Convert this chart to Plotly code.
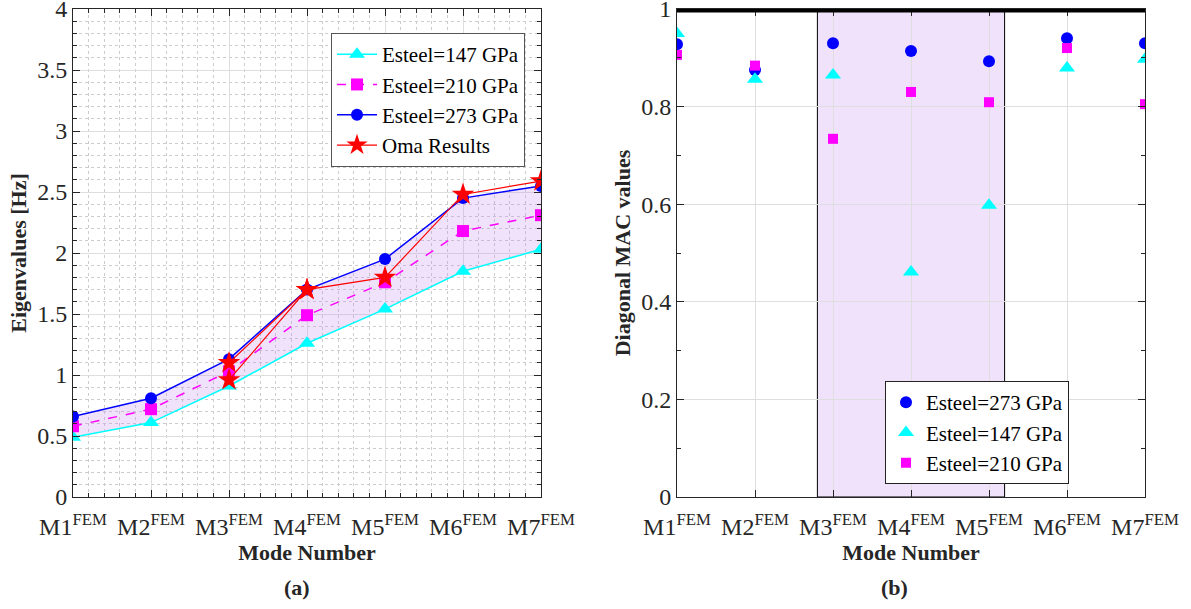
import plotly.graph_objects as go

modes = ["M1", "M2", "M3", "M4", "M5", "M6", "M7"]
tick_labels = [m + "<sup>FEM</sup>" for m in modes]

# Panel (a): eigenvalues [Hz]
eig_147 = [0.49, 0.61, 0.91, 1.26, 1.54, 1.85, 2.03]
eig_210 = [0.58, 0.72, 1.03, 1.49, 1.76, 2.18, 2.31]
eig_273 = [0.66, 0.81, 1.13, 1.70, 1.95, 2.45, 2.55]
oma_modes = ["M3", "M4", "M3", "M4", "M5", "M6", "M7"]
oma_vals = [1.10, 1.70, 0.96, 1.70, 1.80, 2.48, 2.59]
eig_ticks = [0, 0.5, 1, 1.5, 2, 2.5, 3, 3.5, 4]

# Panel (b): diagonal MAC values
mac_273 = [0.928, 0.875, 0.930, 0.914, 0.893, 0.940, 0.930]
mac_147 = [0.950, 0.856, 0.865, 0.461, 0.598, 0.879, 0.897]
mac_210 = [0.906, 0.884, 0.734, 0.830, 0.809, 0.920, 0.805]
mac_ticks = [0, 0.2, 0.4, 0.6, 0.8, 1]
band_modes = [2.8, 5.2]

xpos = list(range(1, len(modes) + 1))
oma_x = [modes.index(m) + 1 for m in oma_modes]

FONT = "Liberation Serif"
AX = "#262626"
CYAN, MAG, BLUE, RED = "#00FFFF", "#FF00FF", "#0000FF", "#FF0000"
FILL = "rgba(190,140,235,0.25)"

fig = go.Figure()

# fill band between 147 and 273 GPa
fig.add_trace(go.Scatter(x=xpos + xpos[::-1], y=eig_147 + eig_273[::-1], fill="toself",
                         fillcolor=FILL, line=dict(width=0), mode="lines",
                         showlegend=False, hoverinfo="skip", xaxis="x", yaxis="y"))
fig.add_trace(go.Scatter(x=xpos, y=eig_147, name="Esteel=147 GPa", mode="lines+markers",
                         line=dict(color=CYAN, width=1.5),
                         marker=dict(symbol="triangle-up", size=14, color=CYAN),
                         xaxis="x", yaxis="y", legend="legend"))
fig.add_trace(go.Scatter(x=xpos, y=eig_210, name="Esteel=210 GPa", mode="lines+markers",
                         line=dict(color=MAG, width=1.5, dash="dash"),
                         marker=dict(symbol="square", size=12, color=MAG),
                         xaxis="x", yaxis="y", legend="legend"))
fig.add_trace(go.Scatter(x=xpos, y=eig_273, name="Esteel=273 GPa", mode="lines+markers",
                         line=dict(color=BLUE, width=1.5),
                         marker=dict(symbol="circle", size=12, color=BLUE),
                         xaxis="x", yaxis="y", legend="legend"))
fig.add_trace(go.Scatter(x=oma_x, y=oma_vals, name="Oma Results", mode="lines+markers",
                         line=dict(color=RED, width=1.2),
                         marker=dict(symbol="star", size=17, color=RED),
                         xaxis="x", yaxis="y", legend="legend"))

# Panel (b)
fig.add_trace(go.Scatter(x=xpos, y=mac_273, name="Esteel=273 GPa", mode="markers",
                         marker=dict(symbol="circle", size=12, color=BLUE),
                         xaxis="x2", yaxis="y2", legend="legend2"))
fig.add_trace(go.Scatter(x=xpos, y=mac_147, name="Esteel=147 GPa", mode="markers",
                         marker=dict(symbol="triangle-up", size=14, color=CYAN),
                         xaxis="x2", yaxis="y2", legend="legend2"))
fig.add_trace(go.Scatter(x=xpos, y=mac_210, name="Esteel=210 GPa", mode="markers",
                         marker=dict(symbol="square", size=10, color=MAG),
                         xaxis="x2", yaxis="y2", legend="legend2"))

W, H = 1191, 609
xd1 = [73 / W, 541 / W]
xd2 = [677 / W, 1145 / W]
yd = [1 - 497 / H, 1 - 9 / H]

tickfont = dict(family=FONT, size=24, color=AX)
titlefont = dict(family=FONT, size=22, color=AX)

common_x = dict(range=[1, 7], tickmode="array", tickvals=xpos, ticktext=tick_labels,
                tickfont=tickfont, automargin=False, ticklabelstandoff=8,
                showline=True, linecolor=AX, linewidth=1, mirror="allticks",
                ticks="inside", ticklen=7, tickcolor=AX, zeroline=False,
                gridcolor="#dedede", gridwidth=1, ticklabeloverflow="allow",
                title=dict(text="<b>Mode Number</b>", font=titlefont, standoff=4))

common_y = dict(tickfont=tickfont, automargin=False, tickmode="array",
                showline=True, linecolor=AX, linewidth=1, mirror="allticks",
                ticks="inside", ticklen=7, tickcolor=AX, zeroline=False,
                gridcolor="#dedede", ticklabeloverflow="allow")

fig.update_layout(
    width=W, height=H, margin=dict(l=0, r=0, t=0, b=0),
    paper_bgcolor="white", plot_bgcolor="white",
    font=dict(family=FONT, color=AX),
    xaxis=dict(common_x, domain=xd1, anchor="y",
               minor=dict(dtick=0.2, showgrid=True, griddash="dot", gridcolor="#cccccc",
                          ticks="inside", ticklen=4, tickcolor=AX)),
    yaxis=dict(common_y, domain=yd, anchor="x", range=[0, 4], tickvals=eig_ticks,
               ticktext=[f"{v:g}" for v in eig_ticks],
               minor=dict(dtick=0.1, showgrid=True, griddash="dot", gridcolor="#cccccc",
                          ticks="inside", ticklen=4, tickcolor=AX),
               title=dict(text="<b>Eigenvalues [Hz]</b>", font=titlefont, standoff=4)),
    xaxis2=dict(common_x, domain=xd2, anchor="y2"),
    yaxis2=dict(common_y, domain=yd, anchor="x2", range=[0, 1], tickvals=mac_ticks,
                ticktext=[f"{v:g}" for v in mac_ticks],
                minor=dict(dtick=0.1, showgrid=False, ticks="inside", ticklen=4, tickcolor=AX),
                title=dict(text="<b>Diagonal MAC values</b>", font=titlefont, standoff=4)),
    legend=dict(x=525 / W, y=1 - 33 / H, xanchor="right", yanchor="top",
                bgcolor="white", bordercolor="#555555", borderwidth=1,
                font=dict(family=FONT, size=21, color="black"),
                tracegroupgap=0, itemwidth=40),
    legend2=dict(x=1069 / W, y=1 - 484 / H, xanchor="right", yanchor="bottom",
                 bgcolor="white", bordercolor="#222222", borderwidth=1,
                 font=dict(family=FONT, size=21, color="black"),
                 tracegroupgap=0, itemwidth=30),
    shapes=[
        dict(type="rect", xref="x2", yref="y2", x0=band_modes[0], x1=band_modes[1],
             y0=0, y1=1, fillcolor=FILL, line=dict(color="black", width=1), layer="below"),
        dict(type="line", xref="x2 domain", yref="y2", x0=0, x1=1, y0=1, y1=1,
             line=dict(color="black", width=7), layer="above"),
    ],
    annotations=[
        dict(text="<b>(a)</b>", x=297 / W, y=1 - 587 / H, xref="paper", yref="paper",
             xanchor="center", yanchor="middle",
             showarrow=False, font=dict(family=FONT, size=22, color=AX)),
        dict(text="<b>(b)</b>", x=894 / W, y=1 - 587 / H, xref="paper", yref="paper",
             xanchor="center", yanchor="middle",
             showarrow=False, font=dict(family=FONT, size=22, color=AX)),
    ],
)

fig.write_html("out.html", config={"displayModeBar": False},
               post_script="document.body.style.margin='0';document.body.style.padding='0';")
